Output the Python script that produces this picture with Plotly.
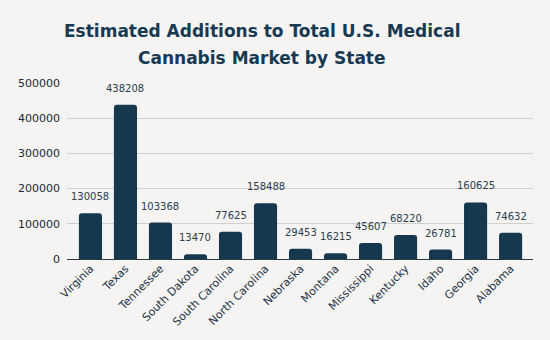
import plotly.graph_objects as go

states = ["Virginia", "Texas", "Tennessee", "South Dakota", "South Carolina",
          "North Carolina", "Nebraska", "Montana", "Mississippi", "Kentucky",
          "Idaho", "Georgia", "Alabama"]
values = [130058, 438208, 103368, 13470, 77625, 158488, 29453, 16215,
          45607, 68220, 26781, 160625, 74632]
title_lines = ["Estimated Additions to Total U.S. Medical", "Cannabis Market by State"]

bar_color = "#15384f"
text_color = "#1c3346"
bg = "#f5f4f2"

fig = go.Figure(go.Bar(x=states, y=values, marker_color=bar_color,
                       marker_line_width=0))

for s, v in zip(states, values):
    fig.add_annotation(x=s, y=v, text=str(v), showarrow=False,
                       yanchor="bottom", yshift=9,
                       font=dict(family="DejaVu Sans", size=10, color="#2a3e4f"))

plot_h = 340 - 83 - 81
plot_w = 550 - 67 - 17
for i, line in enumerate(title_lines):
    center_px = 31 + 27 * i
    fig.add_annotation(x=(262 - 67) / plot_w, xref="paper",
                       y=1 + (83 - center_px) / plot_h, yref="paper",
                       text=line, showarrow=False, xanchor="center", yanchor="middle",
                       font=dict(family="DejaVu Sans", size=17, color="#173a52", weight="bold"))

fig.update_layout(
    width=550, height=340,
    margin=dict(l=67, r=17, t=83, b=81),
    paper_bgcolor=bg, plot_bgcolor=bg,
    bargap=0.34, barcornerradius=3,
    showlegend=False,
    font=dict(family="DejaVu Sans", color=text_color),
)
fig.update_xaxes(range=[-0.67, 12.64], tickangle=-45, tickfont=dict(size=11, color=text_color),
                 showgrid=False, showline=False, ticks="")
fig.update_yaxes(range=[0, 500000], tickvals=[0, 100000, 200000, 300000, 400000, 500000],
                 ticktext=["0", "100000", "200000", "300000", "400000", "500000"],
                 tickfont=dict(size=11, color="#18283a"),
                 showgrid=True, gridcolor="#cfcfcf", gridwidth=1,
                 zeroline=True, zerolinecolor="#2a3a48", zerolinewidth=1,
                 ticks="", ticklabelstandoff=6)

fig.write_html("out.html")
